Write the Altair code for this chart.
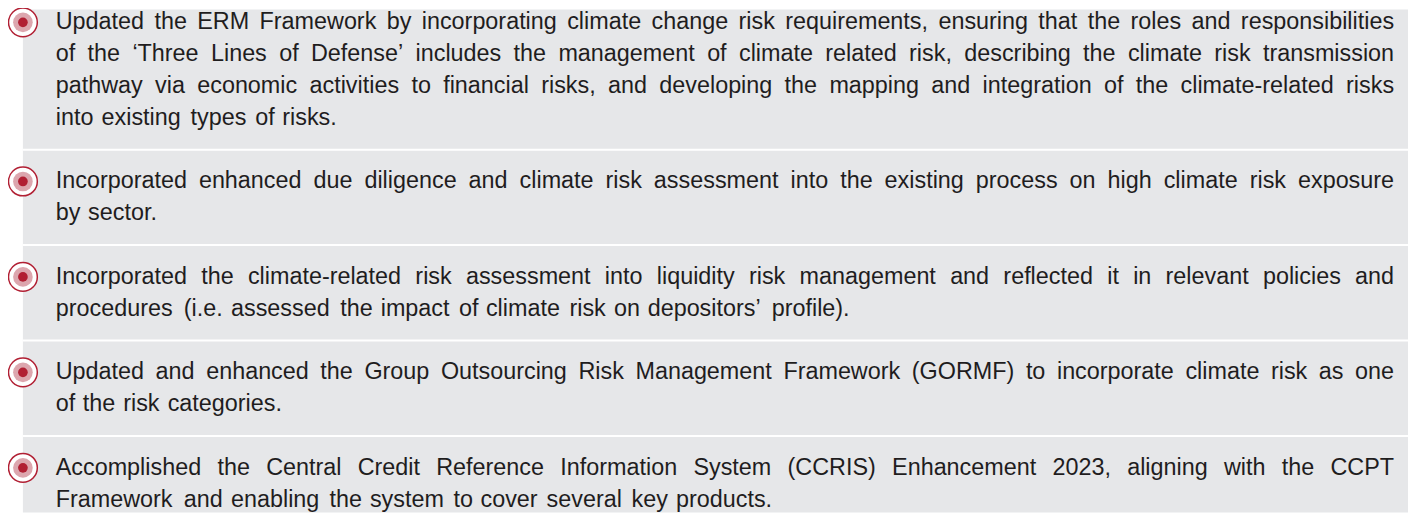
import altair as alt
import pandas as pd

# ---- content -------------------------------------------------------------
item1 = [
    "Updated the ERM Framework by incorporating climate change risk requirements, ensuring that the roles and responsibilities",
    "of the \u2018Three Lines of Defense\u2019 includes the management of climate related risk, describing the climate risk transmission",
    "pathway via economic activities to financial risks, and developing the mapping and integration of the climate-related risks",
    "into existing types of risks.",
]
item2 = [
    "Incorporated enhanced due diligence and climate risk assessment into the existing process on high climate risk exposure",
    "by sector.",
]
item3 = [
    "Incorporated the climate-related risk assessment into liquidity risk management and reflected it in relevant policies and",
    "procedures (i.e. assessed the impact of climate risk on depositors\u2019 profile).",
]
item4 = [
    "Updated and enhanced the Group Outsourcing Risk Management Framework (GORMF) to incorporate climate risk as one",
    "of the risk categories.",
]
item5 = [
    "Accomplished the Central Credit Reference Information System (CCRIS) Enhancement 2023, aligning with the CCPT",
    "Framework and enabling the system to cover several key products.",
]
items = [item1, item2, item3, item4, item5]

# ---- style / layout constants -------------------------------------------
W, H = 1408, 506
FS = 23.5          # rendered font size
EM = 24.4          # advance per em for ragged (last) lines
TEXT_LEFT = 48
TEXT_RIGHT = 1394
PANEL_LEFT = 15
GREY = "#e6e7e9"
RED = "#b11f33"
PINK = "#dca6ae"
TXT = "#1f1d1e"
FONT = "Liberation Sans"

# Helvetica/Arial advance widths (1/1000 em)
HELV = {" ": 278, ",": 278, ".": 278, "(": 333, ")": 333, "-": 333,
        "\u2018": 222, "\u2019": 222}
for c, w in zip("ABCDEFGHIJKLMNOPQRSTUVWXYZ",
                [667, 667, 722, 722, 667, 611, 778, 722, 278, 500, 667, 556, 833,
                 722, 778, 667, 778, 722, 667, 611, 722, 667, 944, 667, 667, 611]):
    HELV[c] = w
for c, w in zip("abcdefghijklmnopqrstuvwxyz",
                [556, 556, 500, 556, 556, 278, 556, 556, 222, 222, 500, 222, 833,
                 556, 556, 556, 556, 333, 500, 278, 556, 500, 722, 500, 500, 500]):
    HELV[c] = w
for c in "0123456789":
    HELV[c] = 556


def em_width(s):
    return sum(HELV.get(ch, 556) for ch in s) / 1000.0


# ---- build tables ---------------------------------------------------------
word_rows, bullet_rows, sep_rows = [], [], []
slot = 0
for k, lines in enumerate(items):
    bullet_rows.append({"slot": slot})
    for j, line in enumerate(lines):
        s = slot + j
        words = line.split(" ")
        last = j == len(lines) - 1
        if not last and len(words) > 1:
            natural = sum(em_width(w) * FS for w in words)
            gap = (TEXT_RIGHT - TEXT_LEFT - natural) / (len(words) - 1)
            x = TEXT_LEFT
            for i, w in enumerate(words):
                if i == len(words) - 1:
                    word_rows.append({"word": w, "x": TEXT_RIGHT, "slot": s, "al": "right"})
                else:
                    word_rows.append({"word": w, "x": x, "slot": s, "al": "left"})
                x += em_width(w) * FS + gap
        else:
            x = TEXT_LEFT
            for w in words:
                word_rows.append({"word": w, "x": x, "slot": s, "al": "left"})
                x += (em_width(w) + HELV[" "] / 1000.0) * EM
    last_slot = slot + len(lines) - 1
    nxt = slot + len(lines) + 1
    if k < len(items) - 1:
        sep_rows.append({"slot": (last_slot + nxt) / 2.0})
    slot = nxt

words_df = pd.DataFrame(word_rows)
bullets_df = pd.DataFrame(bullet_rows)
seps_df = pd.DataFrame(sep_rows)

# slot -> pixel mapping: first line centre at 13px, 32px line pitch
TOP, PITCH = 13.0, 32.0
ydom = [-TOP / PITCH, (H - TOP) / PITCH]
yenc = alt.Y("slot:Q", scale=alt.Scale(domain=ydom, reverse=True, nice=False, zero=False), axis=None)
xenc = alt.X("x:Q", scale=alt.Scale(domain=[0, W], nice=False, zero=False), axis=None)

panel = alt.Chart(pd.DataFrame({"a": [0]})).mark_rect(color=GREY).encode(
    x=alt.value(PANEL_LEFT), x2=alt.value(W), y=alt.value(0), y2=alt.value(H)
)
seps = alt.Chart(seps_df).mark_rule(color="white", strokeWidth=2).encode(
    y=yenc, x=alt.value(PANEL_LEFT), x2=alt.value(W)
)
ring = alt.Chart(bullets_df).mark_circle(
    size=840, fill="white", fillOpacity=1, stroke=RED, strokeWidth=1.5, opacity=1
).encode(y=yenc, x=alt.value(PANEL_LEFT))
pink = alt.Chart(bullets_df).mark_circle(size=390, color=PINK, opacity=1).encode(
    y=yenc, x=alt.value(PANEL_LEFT)
)
dot = alt.Chart(bullets_df).mark_circle(size=95, color=RED, opacity=1).encode(
    y=yenc, x=alt.value(PANEL_LEFT)
)
txt_left = alt.Chart(words_df).transform_filter(alt.datum.al == "left").mark_text(
    align="left", baseline="middle", font=FONT, fontSize=FS, color=TXT
).encode(x=xenc, y=yenc, text="word:N")
txt_right = alt.Chart(words_df).transform_filter(alt.datum.al == "right").mark_text(
    align="right", baseline="middle", font=FONT, fontSize=FS, color=TXT
).encode(x=xenc, y=yenc, text="word:N")

chart = (
    alt.layer(panel, seps, ring, pink, dot, txt_left, txt_right)
    .properties(width=W, height=H, autosize=alt.AutoSizeParams(type="none"), padding=0,
                background="white")
    .configure_view(strokeWidth=0)
)

chart.save("out.html", embed_options={"renderer": "svg", "actions": False})
